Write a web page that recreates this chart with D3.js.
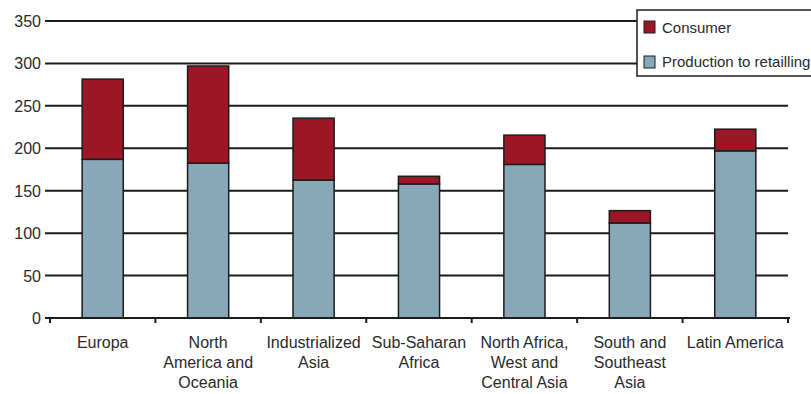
<!DOCTYPE html>
<html>
<head>
<meta charset="utf-8">
<script src="https://cdn.jsdelivr.net/npm/d3@7"></script>
<style>
  body { margin: 0; background: #fff; }
  text { font-family: "Liberation Sans", Arial, sans-serif; fill: #2a2a2a; }
</style>
</head>
<body>
<div id="plot"></div>
<script>
// data
const regions = [
  ['Europa'],
  ['North', 'America and', 'Oceania'],
  ['Industrialized', 'Asia'],
  ['Sub-Saharan', 'Africa'],
  ['North Africa,', 'West and', 'Central Asia'],
  ['South and', 'Southeast', 'Asia'],
  ['Latin America']
]
const production = [187, 182.5, 162.5, 158, 181, 112, 197]
const consumer = [94.5, 114.5, 73, 9, 34.5, 14.5, 25.5]
const yTicks = [0, 50, 100, 150, 200, 250, 300, 350]
const seriesNames = ['Consumer', 'Production to retailling']
const colors = { 'Consumer': '#9c1626', 'Production to retailling': '#88a8b9' }

const width = 811, height = 394
const svg = d3.select('#plot').append('svg')
  .attr('width', width).attr('height', height)

const x = d3.scaleBand()
  .domain(d3.range(regions.length))
  .range([50, 788])
  .padding(0)
const y = d3.scaleLinear().domain([0, 350]).range([318, 21])

// grid lines
svg.selectAll('.grid').data(yTicks.filter(d => d > 0)).enter()
  .append('line')
  .attr('x1', 45).attr('x2', 788)
  .attr('y1', d => y(d)).attr('y2', d => y(d))
  .attr('stroke', '#1c1c1c').attr('stroke-width', 2)

// y labels
svg.selectAll('.ylab').data(yTicks).enter()
  .append('text')
  .attr('x', 41).attr('y', d => y(d) + 6)
  .attr('text-anchor', 'end')
  .style('font-size', '16px')
  .text(d => d)

// bars
const barW = x.bandwidth() * 0.39
const stack = regions.map((r, i) => ({ i, p: production[i], c: consumer[i] }))
const g = svg.append('g')
g.selectAll('.prod').data(stack).enter()
  .append('rect')
  .attr('x', d => x(d.i) + (x.bandwidth() - barW) / 2)
  .attr('y', d => y(d.p))
  .attr('width', barW)
  .attr('height', d => y(0) - y(d.p))
  .attr('fill', colors['Production to retailling'])
  .attr('stroke', '#1c1c1c').attr('stroke-width', 1.5)
g.selectAll('.cons').data(stack).enter()
  .append('rect')
  .attr('x', d => x(d.i) + (x.bandwidth() - barW) / 2)
  .attr('y', d => y(d.p + d.c))
  .attr('width', barW)
  .attr('height', d => y(d.p) - y(d.p + d.c))
  .attr('fill', colors['Consumer'])
  .attr('stroke', '#1c1c1c').attr('stroke-width', 1.5)

// x axis baseline + ticks
svg.append('line')
  .attr('x1', 45).attr('x2', 790)
  .attr('y1', y(0)).attr('y2', y(0))
  .attr('stroke', '#1c1c1c').attr('stroke-width', 2)
const bounds = d3.range(regions.length + 1).map(i => 50 + i * x.step())
svg.selectAll('.xtick').data(bounds).enter()
  .append('line')
  .attr('x1', d => d).attr('x2', d => d)
  .attr('y1', y(0)).attr('y2', y(0) + 5)
  .attr('stroke', '#1c1c1c').attr('stroke-width', 2)

// category labels
const lab = svg.selectAll('.xlab').data(regions).enter()
  .append('text')
  .attr('text-anchor', 'middle')
  .style('font-size', '16px')
lab.each(function(lines, i) {
  d3.select(this).selectAll('tspan').data(lines).enter()
    .append('tspan')
    .attr('x', x(i) + x.bandwidth() / 2)
    .attr('y', (d, k) => 348 + k * 20)
    .text(d => d)
})

// legend
const lg = svg.append('g')
lg.append('rect')
  .attr('x', 637).attr('y', 10)
  .attr('width', 180).attr('height', 66)
  .attr('fill', '#fff')
  .attr('stroke', '#1c1c1c').attr('stroke-width', 1.5)
seriesNames.forEach((s, k) => {
  lg.append('rect')
    .attr('x', 644).attr('y', 21 + k * 35)
    .attr('width', 11).attr('height', 12)
    .attr('fill', colors[s])
    .attr('stroke', '#1c1c1c').attr('stroke-width', 1)
  lg.append('text')
    .attr('x', 662).attr('y', 33 + k * 34)
    .style('font-size', '15px')
    .text(s)
})
</script>
</body>
</html>
